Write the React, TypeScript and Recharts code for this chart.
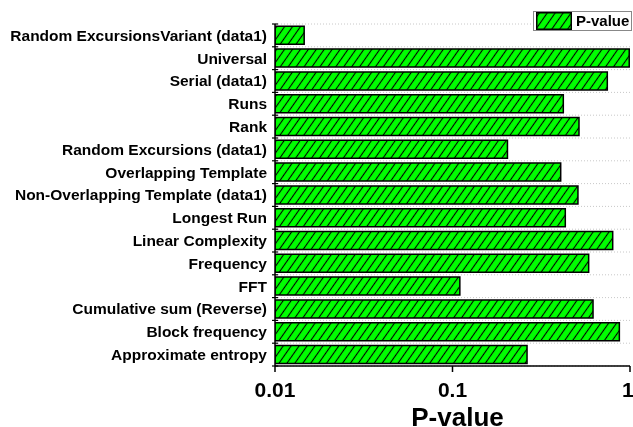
import React from 'react';
import { BarChart, Bar, XAxis, YAxis, CartesianGrid, Legend } from 'recharts';

const categories = [
  'Random ExcursionsVariant (data1)',
  'Universal',
  'Serial (data1)',
  'Runs',
  'Rank',
  'Random Excursions (data1)',
  'Overlapping Template',
  'Non-Overlapping Template (data1)',
  'Longest Run',
  'Linear Complexity',
  'Frequency',
  'FFT',
  'Cumulative sum (Reverse)',
  'Block frequency',
  'Approximate entropy',
];

const pValues = [
  0.0146, 0.99, 0.745, 0.421, 0.516, 0.204, 0.407, 0.509, 0.432, 0.799, 0.585, 0.11, 0.619, 0.871, 0.263,
];

const xTicks = [0.01, 0.1, 1];
const seriesName = 'P-value';
const axisTitle = 'P-value';

const data = categories.map((name, i) => ({ name, p: pValues[i] }));

const FONT = '"Liberation Sans", Arial, Helvetica, sans-serif';
const CHART_W = 625;
const CHART_H = 419;
const MARGIN = { top: 16, right: 3, left: 0, bottom: 0 };
const Y_AXIS_W = 267;
const X_AXIS_H = 61;
const PLOT_H = CHART_H - MARGIN.top - MARGIN.bottom - X_AXIS_H;

const Hatch = ({ id }: { id: string }) => (
  <pattern id={id} patternUnits="userSpaceOnUse" width={6.5} height={6.5} patternTransform="rotate(35)">
    <rect width={6.5} height={6.5} fill="#00ff00" />
    <line x1={3.25} y1={-1} x2={3.25} y2={7.5} stroke="#000" strokeWidth={1.1} />
  </pattern>
);

const CategoryTick = (props: any) => {
  const { x, y, payload, index } = props;
  const half = payload && typeof payload.offset === 'number' && payload.offset > 0 ? payload.offset : PLOT_H / categories.length / 2;
  return (
    <g>
      <line x1={x - 3} x2={x + 3} y1={y - half} y2={y - half} stroke="#000" strokeWidth={1.2} />
      {index === categories.length - 1 && (
        <line x1={x - 3} x2={x + 3} y1={y + half} y2={y + half} stroke="#000" strokeWidth={1.2} />
      )}
      <text x={x - 8} y={y} dy="0.35em" textAnchor="end" fontFamily={FONT} fontWeight="bold" fontSize={15.5} fill="#000">
        {payload.value}
      </text>
    </g>
  );
};

const LegendContent = () => (
  <div
    style={{
      display: 'flex',
      alignItems: 'center',
      border: '1px solid #888',
      background: '#fff',
      height: 18,
      width: 97,
      boxSizing: 'content-box',
      fontFamily: FONT,
    }}
  >
    <svg width={37} height={18} style={{ marginLeft: 2, display: 'block' }}>
      <defs>
        <Hatch id="legendHatch" />
      </defs>
      <rect x={0.75} y={0.75} width={34.5} height={16.5} fill="url(#legendHatch)" stroke="#000" strokeWidth={1.5} />
    </svg>
    <span style={{ fontWeight: 'bold', fontSize: 15, marginLeft: 3, color: '#000', lineHeight: '18px' }}>{seriesName}</span>
  </div>
);

export default function App() {
  return (
    <div style={{ width: CHART_W, height: CHART_H, position: 'fixed', top: 8, left: 8, overflow: 'hidden' }}>
      <BarChart width={CHART_W} height={CHART_H} data={data} layout="vertical" margin={MARGIN} barCategoryGap="10%">
        <defs>
          <Hatch id="barHatch" />
        </defs>
        <CartesianGrid
          vertical={false}
          stroke="#c8c8c8"
          strokeDasharray="1 2"
          horizontalCoordinatesGenerator={({ offset }: any) =>
            Array.from({ length: categories.length + 1 }, (_, i) => offset.top + (i * offset.height) / categories.length)
          }
        />
        <XAxis
          type="number"
          scale="log"
          domain={[0.01, 1]}
          allowDataOverflow
          ticks={xTicks}
          tickFormatter={(v: number) => String(v)}
          height={X_AXIS_H}
          tickSize={6}
          tickMargin={10}
          axisLine={{ stroke: '#000', strokeWidth: 1.5 }}
          tickLine={{ stroke: '#000', strokeWidth: 1.5 }}
          tick={{ fill: '#000', fontFamily: FONT, fontWeight: 'bold', fontSize: 21 }}
          label={{
            value: axisTitle,
            position: 'insideBottom',
            offset: 1,
            dx: 5,
            style: { fill: '#000', fontFamily: FONT, fontWeight: 'bold', fontSize: 26 },
          }}
        />
        <YAxis
          type="category"
          dataKey="name"
          width={Y_AXIS_W}
          interval={0}
          tickSize={0}
          tickMargin={0}
          tickLine={false}
          axisLine={{ stroke: '#000', strokeWidth: 1.5 }}
          tick={<CategoryTick />}
        />
        <Legend
          layout="horizontal"
          verticalAlign="middle"
          align="center"
          content={<LegendContent />}
          wrapperStyle={{ top: 3, left: 525, width: 99, height: 20 }}
        />
        <Bar dataKey="p" name={seriesName} fill="url(#barHatch)" stroke="#000" strokeWidth={1.5} isAnimationActive={false} />
      </BarChart>
    </div>
  );
}
